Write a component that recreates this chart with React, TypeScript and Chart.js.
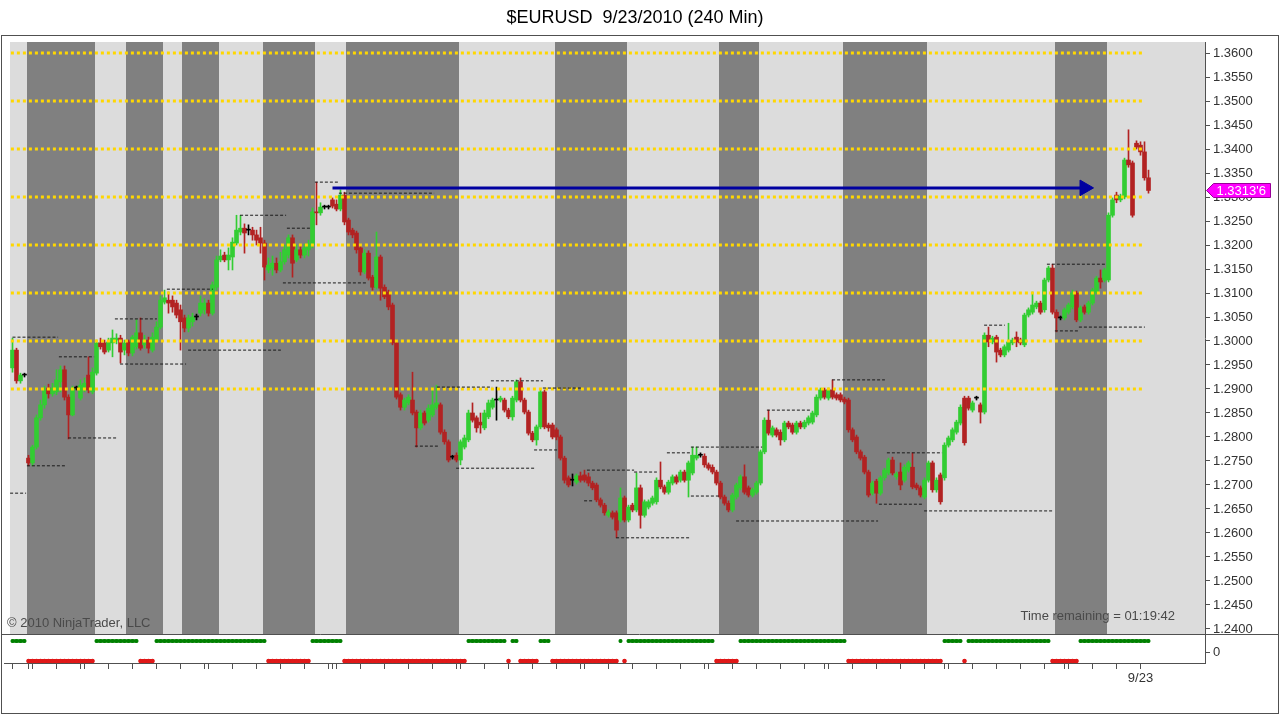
import React, { useEffect, useRef } from 'react';
import { Chart, registerables } from 'chart.js';

Chart.register(...registerables);

// ---------- data (240-min bars, index 0..284) ----------
const OPEN = [
  1.2944, 1.2981, 1.2917, 1.2929, 1.2756, 1.2746, 1.2779, 1.2840, 1.2867, 1.2902,
  1.2890, 1.2894, 1.2915, 1.2940, 1.2883, 1.2846, 1.2902, 1.2881, 1.2898, 1.2929,
  1.2894, 1.2933, 1.2996, 1.2996, 1.2981, 1.2996, 1.3002, 1.3006, 1.2981, 1.2998,
  1.2975, 1.2988, 1.3017, 1.2992, 1.3002, 1.2981, 1.3002, 1.3029, 1.3081, 1.3085,
  1.3085, 1.3079, 1.3065, 1.3048, 1.3027, 1.3040, 1.3050, 1.3058, 1.3065, 1.3079,
  1.3058, 1.3112, 1.3169, 1.3179, 1.3169, 1.3175, 1.3204, 1.3227, 1.3235, 1.3231,
  1.3231, 1.3221, 1.3215, 1.3204, 1.3148, 1.3152, 1.3162, 1.3148, 1.3165, 1.3179,
  1.3215, 1.3169, 1.3190, 1.3179, 1.3190, 1.3200, 1.3269, 1.3267, 1.3279, 1.3279,
  1.3294, 1.3285, 1.3275, 1.3304, 1.3252, 1.3231, 1.3225, 1.3194, 1.3144, 1.3183,
  1.3133, 1.3112, 1.3175, 1.3112, 1.3102, 1.3075, 1.2996, 1.2888, 1.2862, 1.2871,
  1.2877, 1.2852, 1.2819, 1.2850, 1.2835, 1.2846, 1.2862, 1.2867, 1.2810, 1.2790,
  1.2758, 1.2762, 1.2752, 1.2779, 1.2794, 1.2850, 1.2840, 1.2831, 1.2819, 1.2842,
  1.2862, 1.2877, 1.2877, 1.2877, 1.2856, 1.2842, 1.2877, 1.2915, 1.2877, 1.2852,
  1.2808, 1.2794, 1.2821, 1.2894, 1.2825, 1.2825, 1.2815, 1.2800, 1.2756, 1.2715,
  1.2710, 1.2706, 1.2719, 1.2721, 1.2717, 1.2704, 1.2700, 1.2669, 1.2658, 1.2637,
  1.2642, 1.2642, 1.2627, 1.2673, 1.2627, 1.2658, 1.2648, 1.2694, 1.2637, 1.2654,
  1.2662, 1.2665, 1.2710, 1.2696, 1.2685, 1.2704, 1.2717, 1.2710, 1.2727, 1.2710,
  1.2725, 1.2756, 1.2762, 1.2760, 1.2742, 1.2737, 1.2727, 1.2704, 1.2675, 1.2662,
  1.2648, 1.2675, 1.2694, 1.2717, 1.2694, 1.2679, 1.2685, 1.2704, 1.2769, 1.2835,
  1.2804, 1.2815, 1.2810, 1.2794, 1.2829, 1.2825, 1.2810, 1.2829, 1.2821, 1.2829,
  1.2831, 1.2846, 1.2881, 1.2898, 1.2881, 1.2898, 1.2888, 1.2888, 1.2879, 1.2877,
  1.2815, 1.2800, 1.2769, 1.2758, 1.2727, 1.2683, 1.2708, 1.2683, 1.2715, 1.2725,
  1.2752, 1.2717, 1.2727, 1.2710, 1.2731, 1.2737, 1.2700, 1.2694, 1.2675, 1.2710,
  1.2746, 1.2690, 1.2721, 1.2715, 1.2783, 1.2794, 1.2810, 1.2829, 1.2881, 1.2881,
  1.2856, 1.2881, 1.2867, 1.2852, 1.3012, 1.2998, 1.3008, 1.2981, 1.2971, 1.2981,
  1.2996, 1.3008, 1.3002, 1.2992, 1.3054, 1.3060, 1.3071, 1.3079, 1.3065, 1.3127,
  1.3152, 1.3060, 1.3048, 1.3048, 1.3060, 1.3071, 1.3100, 1.3044, 1.3071, 1.3060,
  1.3079, 1.3102, 1.3131, 1.3127, 1.3127, 1.3262, 1.3304, 1.3294, 1.3300, 1.3377,
  1.3371, 1.3412, 1.3408, 1.3394, 1.3340,
];
const HIGH = [
  1.3006, 1.2985, 1.2933, 1.2933, 1.2762, 1.2783, 1.2846, 1.2877, 1.2906, 1.2910,
  1.2912, 1.2940, 1.2948, 1.2948, 1.2888, 1.2906, 1.2906, 1.2919, 1.2923, 1.2967,
  1.2944, 1.3002, 1.3006, 1.3002, 1.3006, 1.3023, 1.3015, 1.3012, 1.3002, 1.3002,
  1.3012, 1.3044, 1.3048, 1.3012, 1.3008, 1.3017, 1.3040, 1.3094, 1.3106, 1.3102,
  1.3094, 1.3085, 1.3075, 1.3054, 1.3054, 1.3058, 1.3056, 1.3094, 1.3088, 1.3085,
  1.3123, 1.3177, 1.3190, 1.3185, 1.3194, 1.3215, 1.3262, 1.3262, 1.3244, 1.3242,
  1.3237, 1.3231, 1.3237, 1.3210, 1.3173, 1.3177, 1.3173, 1.3185, 1.3200, 1.3221,
  1.3221, 1.3200, 1.3198, 1.3202, 1.3210, 1.3277, 1.3331, 1.3288, 1.3283, 1.3283,
  1.3298, 1.3294, 1.3315, 1.3310, 1.3256, 1.3235, 1.3229, 1.3198, 1.3190, 1.3188,
  1.3137, 1.3227, 1.3179, 1.3117, 1.3106, 1.3079, 1.3002, 1.2892, 1.2881, 1.2888,
  1.2935, 1.2856, 1.2856, 1.2854, 1.2867, 1.2904, 1.2908, 1.2871, 1.2815, 1.2794,
  1.2762, 1.2767, 1.2794, 1.2804, 1.2856, 1.2871, 1.2844, 1.2850, 1.2856, 1.2877,
  1.2881, 1.2904, 1.2885, 1.2881, 1.2860, 1.2885, 1.2919, 1.2923, 1.2881, 1.2856,
  1.2812, 1.2825, 1.2898, 1.2898, 1.2829, 1.2829, 1.2819, 1.2804, 1.2760, 1.2719,
  1.2723, 1.2723, 1.2727, 1.2731, 1.2725, 1.2708, 1.2704, 1.2673, 1.2662, 1.2648,
  1.2646, 1.2646, 1.2694, 1.2677, 1.2658, 1.2662, 1.2725, 1.2700, 1.2669, 1.2669,
  1.2677, 1.2715, 1.2748, 1.2700, 1.2710, 1.2721, 1.2721, 1.2731, 1.2731, 1.2750,
  1.2779, 1.2779, 1.2767, 1.2765, 1.2746, 1.2742, 1.2731, 1.2708, 1.2679, 1.2667,
  1.2683, 1.2704, 1.2721, 1.2742, 1.2698, 1.2694, 1.2708, 1.2773, 1.2840, 1.2856,
  1.2823, 1.2819, 1.2815, 1.2833, 1.2833, 1.2829, 1.2833, 1.2833, 1.2835, 1.2844,
  1.2854, 1.2888, 1.2902, 1.2902, 1.2902, 1.2919, 1.2892, 1.2892, 1.2883, 1.2881,
  1.2819, 1.2804, 1.2773, 1.2762, 1.2731, 1.2708, 1.2712, 1.2719, 1.2735, 1.2756,
  1.2758, 1.2727, 1.2746, 1.2742, 1.2750, 1.2767, 1.2704, 1.2698, 1.2715, 1.2750,
  1.2750, 1.2715, 1.2725, 1.2788, 1.2802, 1.2819, 1.2835, 1.2867, 1.2885, 1.2885,
  1.2875, 1.2885, 1.2871, 1.3017, 1.3029, 1.3010, 1.3012, 1.2985, 1.2992, 1.3037,
  1.3006, 1.3019, 1.3006, 1.3058, 1.3069, 1.3102, 1.3083, 1.3083, 1.3131, 1.3156,
  1.3160, 1.3065, 1.3052, 1.3069, 1.3079, 1.3106, 1.3104, 1.3073, 1.3075, 1.3083,
  1.3110, 1.3135, 1.3148, 1.3152, 1.3267, 1.3298, 1.3310, 1.3306, 1.3381, 1.3440,
  1.3375, 1.3417, 1.3415, 1.3415, 1.3356,
];
const LOW = [
  1.2935, 1.2912, 1.2912, 1.2925, 1.2740, 1.2740, 1.2775, 1.2835, 1.2860, 1.2881,
  1.2885, 1.2888, 1.2894, 1.2877, 1.2796, 1.2844, 1.2898, 1.2877, 1.2894, 1.2892,
  1.2890, 1.2929, 1.2983, 1.2973, 1.2977, 1.2967, 1.2994, 1.2954, 1.2971, 1.2969,
  1.2969, 1.2983, 1.2981, 1.2985, 1.2975, 1.2977, 1.2998, 1.3025, 1.3077, 1.3058,
  1.3060, 1.3048, 1.2981, 1.3019, 1.3019, 1.3031, 1.3044, 1.3052, 1.3056, 1.3052,
  1.3054, 1.3106, 1.3165, 1.3165, 1.3148, 1.3148, 1.3200, 1.3221, 1.3183, 1.3221,
  1.3210, 1.3200, 1.3183, 1.3127, 1.3142, 1.3137, 1.3142, 1.3144, 1.3160, 1.3173,
  1.3133, 1.3165, 1.3173, 1.3173, 1.3177, 1.3194, 1.3242, 1.3262, 1.3275, 1.3275,
  1.3277, 1.3271, 1.3271, 1.3242, 1.3221, 1.3215, 1.3183, 1.3137, 1.3140, 1.3127,
  1.3106, 1.3108, 1.3085, 1.3088, 1.3065, 1.2992, 1.2879, 1.2856, 1.2856, 1.2867,
  1.2846, 1.2779, 1.2815, 1.2825, 1.2831, 1.2842, 1.2858, 1.2806, 1.2785, 1.2748,
  1.2754, 1.2748, 1.2742, 1.2775, 1.2790, 1.2831, 1.2810, 1.2808, 1.2815, 1.2838,
  1.2858, 1.2835, 1.2873, 1.2852, 1.2838, 1.2835, 1.2873, 1.2873, 1.2848, 1.2804,
  1.2790, 1.2783, 1.2817, 1.2817, 1.2812, 1.2796, 1.2794, 1.2752, 1.2704, 1.2696,
  1.2698, 1.2702, 1.2706, 1.2706, 1.2698, 1.2690, 1.2665, 1.2654, 1.2637, 1.2633,
  1.2629, 1.2590, 1.2623, 1.2623, 1.2623, 1.2644, 1.2644, 1.2610, 1.2633, 1.2650,
  1.2658, 1.2660, 1.2692, 1.2681, 1.2681, 1.2700, 1.2702, 1.2706, 1.2706, 1.2675,
  1.2721, 1.2752, 1.2758, 1.2737, 1.2731, 1.2723, 1.2700, 1.2671, 1.2658, 1.2644,
  1.2644, 1.2671, 1.2690, 1.2681, 1.2675, 1.2675, 1.2681, 1.2700, 1.2765, 1.2804,
  1.2800, 1.2800, 1.2783, 1.2790, 1.2817, 1.2806, 1.2806, 1.2817, 1.2817, 1.2825,
  1.2827, 1.2842, 1.2877, 1.2879, 1.2877, 1.2879, 1.2877, 1.2873, 1.2869, 1.2810,
  1.2790, 1.2765, 1.2752, 1.2723, 1.2675, 1.2679, 1.2662, 1.2679, 1.2710, 1.2721,
  1.2721, 1.2712, 1.2690, 1.2706, 1.2727, 1.2692, 1.2690, 1.2675, 1.2671, 1.2706,
  1.2685, 1.2685, 1.2660, 1.2710, 1.2779, 1.2790, 1.2806, 1.2825, 1.2783, 1.2856,
  1.2852, 1.2877, 1.2829, 1.2848, 1.2988, 1.2994, 1.2956, 1.2967, 1.2967, 1.2977,
  1.2992, 1.2988, 1.2992, 1.2988, 1.3050, 1.3056, 1.3067, 1.3056, 1.3060, 1.3123,
  1.3056, 1.3019, 1.3044, 1.3044, 1.3056, 1.3067, 1.3040, 1.3040, 1.3056, 1.3056,
  1.3075, 1.3098, 1.3110, 1.3123, 1.3123, 1.3258, 1.3288, 1.3290, 1.3296, 1.3362,
  1.3258, 1.3400, 1.3387, 1.3335, 1.3308,
];
const CLOSE = [
  1.2981, 1.2917, 1.2929, 1.2929, 1.2746, 1.2779, 1.2840, 1.2867, 1.2898, 1.2890,
  1.2902, 1.2919, 1.2940, 1.2883, 1.2846, 1.2902, 1.2902, 1.2908, 1.2912, 1.2898,
  1.2935, 1.2996, 1.2988, 1.2977, 1.2998, 1.3006, 1.3006, 1.2977, 1.2996, 1.2975,
  1.3008, 1.3017, 1.2985, 1.3002, 1.2985, 1.3008, 1.3029, 1.3085, 1.3090, 1.3079,
  1.3071, 1.3054, 1.3040, 1.3027, 1.3048, 1.3050, 1.3050, 1.3079, 1.3079, 1.3058,
  1.3117, 1.3169, 1.3177, 1.3169, 1.3179, 1.3206, 1.3231, 1.3235, 1.3225, 1.3231,
  1.3221, 1.3210, 1.3204, 1.3154, 1.3158, 1.3162, 1.3148, 1.3165, 1.3190, 1.3215,
  1.3162, 1.3190, 1.3179, 1.3194, 1.3202, 1.3269, 1.3267, 1.3279, 1.3279, 1.3279,
  1.3281, 1.3275, 1.3304, 1.3248, 1.3227, 1.3221, 1.3190, 1.3144, 1.3183, 1.3131,
  1.3112, 1.3175, 1.3110, 1.3092, 1.3071, 1.2996, 1.2883, 1.2862, 1.2877, 1.2883,
  1.2850, 1.2819, 1.2850, 1.2829, 1.2860, 1.2867, 1.2871, 1.2810, 1.2790, 1.2752,
  1.2758, 1.2752, 1.2790, 1.2798, 1.2850, 1.2835, 1.2819, 1.2825, 1.2850, 1.2871,
  1.2877, 1.2877, 1.2881, 1.2856, 1.2842, 1.2881, 1.2915, 1.2877, 1.2852, 1.2808,
  1.2794, 1.2821, 1.2894, 1.2821, 1.2819, 1.2800, 1.2800, 1.2756, 1.2710, 1.2700,
  1.2710, 1.2719, 1.2710, 1.2710, 1.2704, 1.2694, 1.2669, 1.2658, 1.2642, 1.2644,
  1.2633, 1.2606, 1.2673, 1.2627, 1.2654, 1.2648, 1.2694, 1.2637, 1.2665, 1.2665,
  1.2673, 1.2710, 1.2696, 1.2685, 1.2706, 1.2717, 1.2706, 1.2727, 1.2710, 1.2746,
  1.2762, 1.2762, 1.2762, 1.2742, 1.2735, 1.2727, 1.2704, 1.2675, 1.2662, 1.2648,
  1.2679, 1.2700, 1.2717, 1.2685, 1.2679, 1.2690, 1.2704, 1.2769, 1.2835, 1.2808,
  1.2819, 1.2804, 1.2794, 1.2829, 1.2821, 1.2810, 1.2829, 1.2821, 1.2831, 1.2840,
  1.2850, 1.2883, 1.2898, 1.2883, 1.2898, 1.2883, 1.2881, 1.2877, 1.2873, 1.2815,
  1.2794, 1.2769, 1.2756, 1.2727, 1.2679, 1.2704, 1.2683, 1.2715, 1.2731, 1.2752,
  1.2725, 1.2723, 1.2700, 1.2737, 1.2746, 1.2696, 1.2694, 1.2679, 1.2710, 1.2746,
  1.2690, 1.2710, 1.2665, 1.2783, 1.2798, 1.2815, 1.2831, 1.2862, 1.2788, 1.2860,
  1.2871, 1.2881, 1.2852, 1.3012, 1.2998, 1.3006, 1.2977, 1.2971, 1.2988, 1.2998,
  1.3002, 1.2998, 1.2996, 1.3054, 1.3065, 1.3075, 1.3079, 1.3060, 1.3127, 1.3152,
  1.3060, 1.3048, 1.3048, 1.3065, 1.3075, 1.3100, 1.3044, 1.3069, 1.3060, 1.3079,
  1.3106, 1.3131, 1.3123, 1.3148, 1.3262, 1.3294, 1.3294, 1.3302, 1.3377, 1.3367,
  1.3262, 1.3404, 1.3394, 1.3340, 1.33136,
];

// price-axis tick labels
const PRICE_TICKS = [
  1.24, 1.245, 1.25, 1.255, 1.26, 1.265, 1.27, 1.275, 1.28, 1.285, 1.29, 1.295, 1.3,
  1.305, 1.31, 1.315, 1.32, 1.325, 1.33, 1.335, 1.34, 1.345, 1.35, 1.355, 1.36,
];
// session (day) boundaries on the time axis, as bar indices
const DAY_TICKS = [
  0, 4, 5, 11, 17, 18, 24, 30, 36, 42, 48, 49, 55, 61, 67, 73, 79, 80, 81, 87, 93, 99,
  105, 111, 112, 118, 124, 130, 136, 142, 143, 149, 155, 161, 167, 173, 174, 180, 186,
  192, 198, 203, 204, 210, 216, 222, 228, 233, 234, 240, 246, 252, 258, 263, 264, 270,
  276, 282,
];
const DATE_LABEL_BARS = [282];
const DATE_LABEL_TEXT = ['9/23'];

// horizontal price levels (dotted) and their bar span
const LEVELS = [1.36, 1.35, 1.34, 1.33, 1.32, 1.31, 1.3, 1.29];
const LEVEL_SPAN = [-0.4, 282.6];

// shaded regions: [firstBar, lastBar]
const DARK_BANDS = [
  [4, 20], [29, 37], [43, 51], [63, 75], [84, 111], [136, 153], [177, 186], [208, 228], [261, 273],
];

// swing high / low lines: [fromBar, toBar, price]
const SWING_LINES = [
  [0, 11.4, 1.3008], [11.6, 20.4, 1.2967], [26.9, 43.4, 1.2952], [13.9, 26.4, 1.2798],
  [3.6, 13.6, 1.274], [-0.6, 3.4, 1.2683], [25.6, 36.1, 1.3046], [38.6, 50.1, 1.3108],
  [43.9, 67.1, 1.2981], [56.9, 68.4, 1.3262], [68.6, 74.4, 1.3235], [67.6, 88.6, 1.3121],
  [75.6, 81.4, 1.3331], [81.6, 105.4, 1.3308], [106.1, 119.9, 1.2904], [119.6, 132.6, 1.2917],
  [100.6, 106.4, 1.2781], [110.9, 130.4, 1.2735], [130.4, 136.4, 1.2773], [132.6, 142.6, 1.2902],
  [143.6, 155.4, 1.2731], [155.4, 161.1, 1.2727], [150.9, 169.4, 1.259], [142.9, 145.4, 1.2667],
  [163.6, 169.4, 1.2767], [169.6, 187.4, 1.2779], [169.6, 176.6, 1.2677], [188.6, 199.6, 1.2856],
  [180.9, 216.4, 1.2625], [204.9, 218.1, 1.2919], [218.6, 232.4, 1.2767], [216.6, 227.4, 1.266],
  [227.9, 260.4, 1.2646], [242.9, 248.1, 1.3033], [258.6, 273.4, 1.316], [260.6, 266.6, 1.3021],
  [266.6, 283.1, 1.3029],
];

// blue arrow
const ARROW_BARS = [80, 268];
const ARROW_PRICE = 1.3319;

// lower panel signal runs [firstBar, lastBar]
const GREEN_RUNS = [
  [0, 3], [21, 31], [36, 63], [75, 82], [114, 123], [125, 126], [132, 134], [152, 152],
  [154, 175], [182, 208], [233, 237], [239, 259], [267, 284],
];
const RED_RUNS = [
  [4, 20], [32, 35], [64, 74], [83, 113], [124, 124], [127, 131], [135, 151], [153, 153],
  [176, 181], [209, 232], [238, 238], [260, 266],
];

// ---------- styling / layout ----------
const W = 1280;
const H = 715;
const X_MIN = -0.625;
const X_MAX = 298.125;
const Y_MIN = 1.2389583;
const Y_MAX = 1.3622917;
const UP = '#32CD32';
const DOWN = '#B22222';
const DOJI = '#000000';
const LIGHT = '#DCDCDC';
const DARK = '#808080';
const AXIS = '#505050';
const TXT = '#333333';
const FONT = "Arial, 'Liberation Sans', sans-serif";
const GREEN_ROW = 1.1;
const RED_ROW = -0.9;

const inRuns = (runs: number[][], i: number) => runs.some(([a, b]) => i >= a && i <= b);

const fmtMarker = (v: number) => {
  const s = v.toFixed(5);
  return s.slice(0, -1) + "'" + s.slice(-1);
};

export default function App() {
  const priceRef = useRef<HTMLCanvasElement>(null);
  const indRef = useRef<HTMLCanvasElement>(null);

  useEffect(() => {
    const n = CLOSE.length;
    const idx = Array.from({ length: n }, (_, i) => i);
    const colors = idx.map((i) => (CLOSE[i] > OPEN[i] ? UP : CLOSE[i] < OPEN[i] ? DOWN : DOJI));
    const wickData = idx.map((i) => ({
      x: i,
      y: [Math.min(LOW[i], OPEN[i], CLOSE[i]), Math.max(HIGH[i], OPEN[i], CLOSE[i])],
    }));
    const bodyData = idx.map((i) => ({ x: i, y: [OPEN[i], CLOSE[i]] }));

    const levelData: any[] = [];
    LEVELS.forEach((l) => {
      levelData.push({ x: LEVEL_SPAN[0], y: l }, { x: LEVEL_SPAN[1], y: l }, { x: LEVEL_SPAN[1], y: null });
    });
    const swingData: any[] = [];
    SWING_LINES.forEach(([a, b, p]) => {
      swingData.push({ x: a, y: p }, { x: b, y: p }, { x: b, y: null });
    });

    const bandsPlugin = {
      id: 'bands',
      beforeDraw(chart: any) {
        const { ctx, chartArea } = chart;
        const xs = chart.scales.x;
        const { left, right, top, bottom } = chartArea;
        ctx.save();
        ctx.fillStyle = LIGHT;
        ctx.fillRect(left, top, right - left, bottom - top);
        ctx.fillStyle = DARK;
        DARK_BANDS.forEach(([a, b]) => {
          const x0 = Math.round(xs.getPixelForValue(a - 0.5));
          const x1 = Math.round(xs.getPixelForValue(b + 0.5));
          ctx.fillRect(x0, top, x1 - x0, bottom - top);
        });
        ctx.restore();
      },
    };

    const markerPlugin = {
      id: 'marker',
      afterDraw(chart: any) {
        const { ctx, chartArea } = chart;
        const last = CLOSE[CLOSE.length - 1];
        const y = Math.round(chart.scales.y.getPixelForValue(last)) + 0.5;
        const x0 = chartArea.right + 1.5;
        ctx.save();
        ctx.beginPath();
        ctx.moveTo(x0, y);
        ctx.lineTo(x0 + 7, y - 7);
        ctx.lineTo(1270.5, y - 7);
        ctx.lineTo(1270.5, y + 7);
        ctx.lineTo(x0 + 7, y + 7);
        ctx.closePath();
        ctx.fillStyle = '#FF00FF';
        ctx.fill();
        ctx.strokeStyle = '#990099';
        ctx.lineWidth = 1;
        ctx.stroke();
        ctx.fillStyle = '#FFFFFF';
        ctx.font = `13px ${FONT}`;
        ctx.textBaseline = 'middle';
        ctx.textAlign = 'left';
        ctx.fillText(fmtMarker(last), x0 + 10, y + 0.5);
        ctx.restore();
      },
    };

    const priceChart = new Chart(priceRef.current as HTMLCanvasElement, {
      type: 'bar',
      data: {
        datasets: [
          {
            type: 'line',
            data: ARROW_BARS.map((b) => ({ x: b, y: ARROW_PRICE })),
            borderColor: '#0000A0',
            borderWidth: 3,
            pointRadius: [0, 9],
            pointHoverRadius: 0,
            pointStyle: 'triangle',
            pointRotation: 90,
            pointBackgroundColor: '#0000A0',
            pointBorderColor: '#0000A0',
            pointBorderWidth: 1,
            order: 0,
          } as any,
          {
            type: 'line',
            data: swingData,
            borderColor: '#1a1a1a',
            borderWidth: 1,
            borderDash: [3, 2],
            pointRadius: 0,
            spanGaps: false,
            order: 1,
          } as any,
          {
            type: 'line',
            data: levelData,
            borderColor: '#FFD700',
            borderWidth: 3,
            borderDash: [3, 3],
            borderCapStyle: 'butt',
            pointRadius: 0,
            spanGaps: false,
            order: 2,
          } as any,
          {
            type: 'bar',
            data: bodyData,
            backgroundColor: colors,
            borderWidth: 0,
            barThickness: 4,
            minBarLength: 1,
            grouped: false,
            order: 3,
          } as any,
          {
            type: 'bar',
            data: wickData,
            backgroundColor: colors,
            borderWidth: 0,
            barThickness: 1,
            grouped: false,
            order: 4,
          } as any,
        ],
      },
      options: {
        animation: false,
        responsive: false,
        maintainAspectRatio: false,
        events: [],
        layout: { padding: { left: 10, top: 42, right: 0, bottom: 81 } },
        plugins: { legend: { display: false }, tooltip: { enabled: false }, title: { display: false } },
        scales: {
          x: {
            type: 'linear',
            display: false,
            min: X_MIN,
            max: X_MAX,
            offset: false,
            grid: { offset: false },
          },
          y: {
            type: 'linear',
            position: 'right',
            min: Y_MIN,
            max: Y_MAX,
            beginAtZero: false,
            afterFit: (s: any) => {
              s.width = 75;
            },
            afterBuildTicks: (s: any) => {
              s.ticks = PRICE_TICKS.map((v) => ({ value: v }));
            },
            ticks: {
              autoSkip: false,
              callback: (v: any) => Number(v).toFixed(4),
              font: { family: FONT, size: 13 },
              color: TXT,
              padding: 3,
            },
            grid: { drawOnChartArea: false, drawTicks: true, tickLength: 5, color: AXIS },
            border: { display: true, color: AXIS },
          },
        },
      } as any,
      plugins: [bandsPlugin, markerPlugin],
    });

    const greenData = idx.map((i) => ({ x: i, y: inRuns(GREEN_RUNS, i) ? GREEN_ROW : null }));
    const redData = idx.map((i) => ({ x: i, y: inRuns(RED_RUNS, i) ? RED_ROW : null }));

    const framePlugin = {
      id: 'frameLines',
      afterDraw(chart: any) {
        const { ctx, chartArea } = chart;
        ctx.save();
        ctx.strokeStyle = AXIS;
        ctx.lineWidth = 1;
        ctx.beginPath();
        ctx.moveTo(1, chartArea.top + 0.5);
        ctx.lineTo(1278, chartArea.top + 0.5);
        ctx.moveTo(4, chartArea.bottom + 0.5);
        ctx.lineTo(chartArea.left + 1, chartArea.bottom + 0.5);
        ctx.stroke();
        ctx.restore();
      },
    };

    const indChart = new Chart(indRef.current as HTMLCanvasElement, {
      type: 'line',
      data: {
        datasets: [
          {
            data: greenData,
            borderColor: '#008000',
            backgroundColor: '#008000',
            borderWidth: 3.5,
            borderCapStyle: 'round',
            pointRadius: 2,
            pointBorderWidth: 0,
            pointBackgroundColor: '#008000',
            spanGaps: false,
            clip: false,
          } as any,
          {
            data: redData,
            borderColor: '#E01818',
            backgroundColor: '#E01818',
            borderWidth: 4,
            borderCapStyle: 'round',
            pointRadius: 2.2,
            pointBorderWidth: 0,
            pointBackgroundColor: '#E01818',
            spanGaps: false,
            clip: false,
          } as any,
        ],
      },
      options: {
        animation: false,
        responsive: false,
        maintainAspectRatio: false,
        events: [],
        layout: { padding: { left: 10, top: 634, right: 0, bottom: 0 } },
        plugins: { legend: { display: false }, tooltip: { enabled: false }, title: { display: false } },
        scales: {
          x: {
            type: 'linear',
            min: X_MIN,
            max: X_MAX,
            offset: false,
            afterFit: (s: any) => {
              s.height = 52;
            },
            afterBuildTicks: (s: any) => {
              s.ticks = DAY_TICKS.map((v) => ({ value: v }));
            },
            ticks: {
              autoSkip: false,
              maxRotation: 0,
              minRotation: 0,
              padding: 2,
              font: { family: FONT, size: 13 },
              color: TXT,
              callback: (v: any) => {
                const k = DATE_LABEL_BARS.indexOf(Number(v));
                return k >= 0 ? DATE_LABEL_TEXT[k] : '';
              },
            },
            grid: { drawOnChartArea: false, drawTicks: true, tickLength: 6, color: AXIS, offset: false },
            border: { display: true, color: AXIS },
          },
          y: {
            type: 'linear',
            position: 'right',
            min: -1.1,
            max: 1.8,
            afterFit: (s: any) => {
              s.width = 75;
            },
            afterBuildTicks: (s: any) => {
              s.ticks = [{ value: 0 }];
            },
            ticks: { font: { family: FONT, size: 13 }, color: TXT, padding: 3 },
            grid: { drawOnChartArea: false, drawTicks: true, tickLength: 5, color: AXIS },
            border: { display: true, color: AXIS },
          },
        },
      } as any,
      plugins: [framePlugin],
    });

    return () => {
      priceChart.destroy();
      indChart.destroy();
    };
  }, []);

  const abs: React.CSSProperties = { position: 'absolute' };
  return (
    <div style={{ position: 'fixed', left: 0, top: 0, width: W, height: H, background: '#fff', overflow: 'hidden' }}>
      <div
        style={{
          ...abs,
          left: 1,
          top: 35,
          width: 1278,
          height: 679,
          border: `1px solid ${AXIS}`,
          boxSizing: 'border-box',
        }}
      />
      <canvas ref={priceRef} width={W} height={H} style={{ ...abs, left: 0, top: 0, width: W, height: H }} />
      <canvas ref={indRef} width={W} height={H} style={{ ...abs, left: 0, top: 0, width: W, height: H }} />
      <div
        style={{
          ...abs,
          left: 0,
          top: 5,
          width: 1270,
          textAlign: 'center',
          font: `18px ${FONT}`,
          lineHeight: '24px',
          color: '#000',
          whiteSpace: 'pre',
        }}
      >
        {'$EURUSD  9/23/2010 (240 Min)'}
      </div>
      <div style={{ ...abs, left: 7, top: 615, font: `13px ${FONT}`, lineHeight: '16px', color: '#4a4a4a', whiteSpace: 'pre' }}>
        {'© 2010 NinjaTrader, LLC'}
      </div>
      <div
        style={{
          ...abs,
          right: 105,
          top: 608,
          font: `13px ${FONT}`,
          lineHeight: '16px',
          color: '#4a4a4a',
          whiteSpace: 'pre',
          textAlign: 'right',
        }}
      >
        {'Time remaining = 01:19:42'}
      </div>
    </div>
  );
}
